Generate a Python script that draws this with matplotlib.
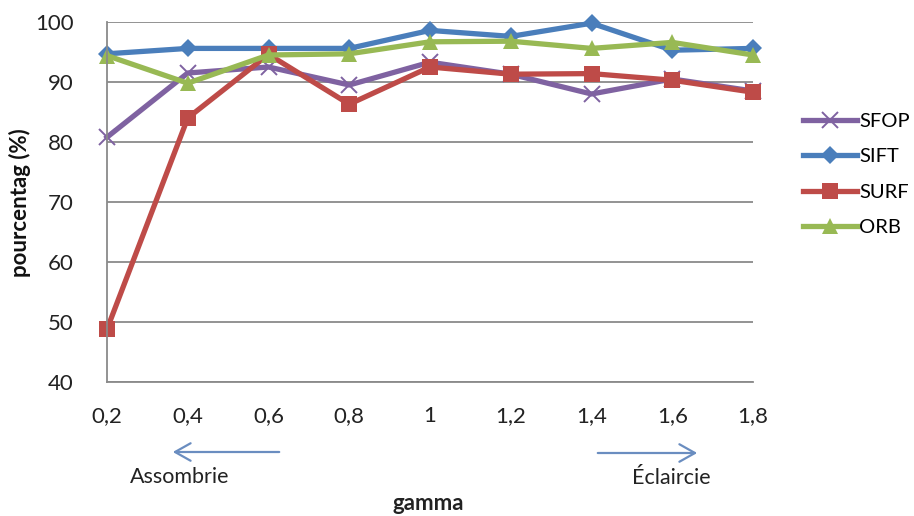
import matplotlib
matplotlib.use("Agg")
import matplotlib.pyplot as plt

plt.rcParams['font.family'] = ['Lato', 'DejaVu Sans']

gamma = ["0,2", "0,4", "0,6", "0,8", "1", "1,2", "1,4", "1,6", "1,8"]
sfop = [80.8, 91.5, 92.5, 89.5, 93.3, 91.3, 88.0, 90.5, 88.5]
sift = [94.7, 95.6, 95.6, 95.6, 98.6, 97.6, 99.8, 95.3, 95.6]
surf = [48.8, 84.0, 94.6, 86.3, 92.5, 91.3, 91.4, 90.3, 88.3]
orb = [94.4, 89.8, 94.5, 94.7, 96.7, 96.8, 95.6, 96.6, 94.5]

W, H = 914, 516
fig = plt.figure(figsize=(W / 100, H / 100), dpi=100)
ax = fig.add_axes([107 / W, 1 - 382 / H, (753 - 107) / W, (382 - 22) / H])

x = list(range(len(gamma)))
grid_c = "#8a8a8a"
series = [
    ("SFOP", sfop, "#7F62A1", "x", 11, 1.4),
    ("SIFT", sift, "#4A7EBB", "D", 9, 0),
    ("SURF", surf, "#BE4B48", "s", 12, 0),
    ("ORB", orb, "#98B954", "^", 12, 0),
]
for name, vals, col, mk, ms, mew in series:
    kw = dict(markeredgewidth=mew) if mk == "x" else dict(markeredgewidth=0)
    ax.plot(x, vals, color=col, lw=3.8, marker=mk, ms=ms, mfc=col, mec=col,
            label=name, clip_on=False, solid_joinstyle="round", **kw)

ax.set_xlim(0, len(gamma) - 1)
ax.set_ylim(40, 100)
ax.set_yticks(range(40, 101, 10))
ax.set_xticks(x)
ax.set_xticklabels(gamma)
ax.yaxis.grid(True, color=grid_c, lw=1.3)
ax.set_axisbelow(True)
for s in ("top", "right"):
    ax.spines[s].set_visible(False)
for s in ("left", "bottom"):
    ax.spines[s].set_color(grid_c)
    ax.spines[s].set_linewidth(1.3)
ax.tick_params(length=0, labelsize=16, colors="#222222")
ax.tick_params(axis="x", pad=17)
ax.tick_params(axis="y", pad=24)

fig.text(20 / W, 1 - 203 / H, "pourcentag (%)", rotation=90, ha="center",
         va="center", fontsize=16, fontweight="bold", color="#111111")
fig.text(428 / W, 1 - 503 / H, "gamma", ha="center", va="center",
         fontsize=16, fontweight="bold", color="#222222")

arrow_c = "#6A8DC0"
fig.add_artist(matplotlib.patches.FancyArrowPatch(
    (282 / W, 1 - 452 / H), (170 / W, 1 - 452 / H), transform=fig.transFigure,
    arrowstyle="->,head_length=0.8,head_width=0.45", color=arrow_c, lw=1.6,
    mutation_scale=14))
fig.add_artist(matplotlib.patches.FancyArrowPatch(
    (595 / W, 1 - 453 / H), (700 / W, 1 - 453 / H), transform=fig.transFigure,
    arrowstyle="->,head_length=0.8,head_width=0.45", color=arrow_c, lw=1.6,
    mutation_scale=14))
fig.text(180 / W, 1 - 477 / H, "Assombrie", ha="center", va="center",
         fontsize=15.5, color="#222222")
fig.text(671 / W, 1 - 478 / H, "Éclaircie", ha="center", va="center",
         fontsize=15.5, color="#222222")

leg = ax.legend(loc="upper left", bbox_to_anchor=(795 / W, 1 - 105 / H),
                bbox_transform=fig.transFigure, frameon=False, fontsize=14.5,
                handlelength=2.7, handletextpad=0.1, labelspacing=0.9,
                borderaxespad=0)

fig.savefig("out.png", dpi=100)
